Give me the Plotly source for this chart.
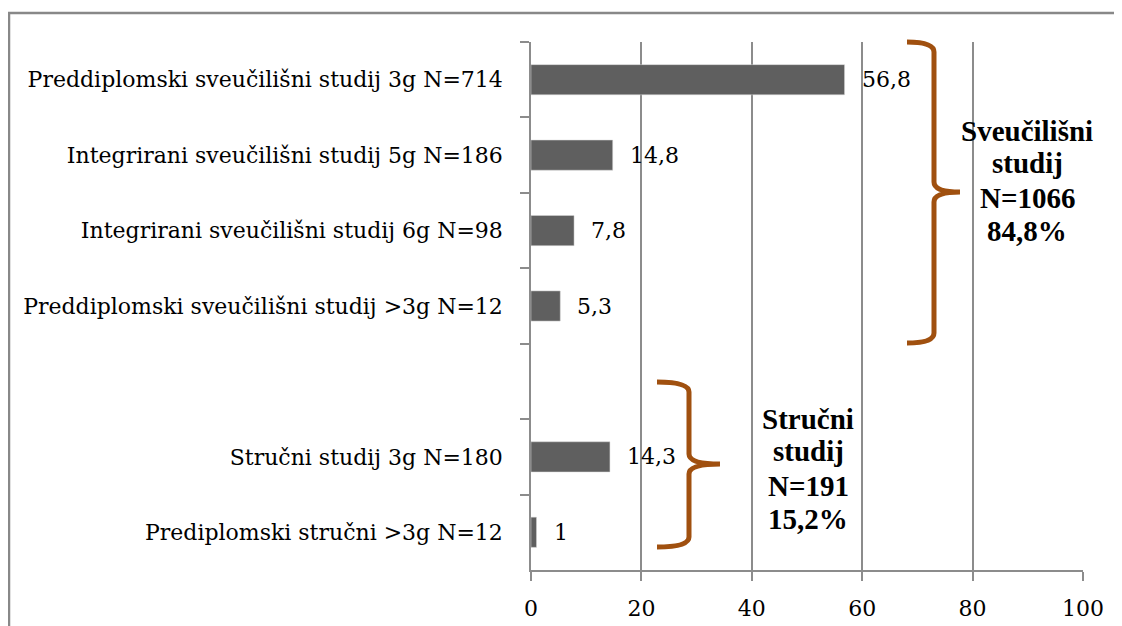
import plotly.graph_objects as go

categories = [
    "Preddiplomski sveučilišni studij 3g N=714",
    "Integrirani sveučilišni studij 5g N=186",
    "Integrirani sveučilišni studij 6g N=98",
    "Preddiplomski sveučilišni studij >3g N=12",
    "Stručni studij 3g N=180",
    "Prediplomski stručni >3g N=12",
]
values = [56.8, 14.8, 7.8, 5.3, 14.3, 1]
spacer = " "
category_order = categories[:4] + [spacer] + categories[4:]
x_ticks = [0, 20, 40, 60, 80, 100]
group1_lines = ["Sveučilišni", "studij", "N=1066", "84,8%"]
group2_lines = ["Stručni", "studij", "N=191", "15,2%"]

OFF = 8  # page body margin
W, H = 1122 - OFF, 626 - OFF
L, R, T, B = 531 - OFF, 1083 - OFF, 42 - OFF, 570 - OFF

label_font = dict(family="DejaVu Serif", size=22, color="#000000")
bold_font = dict(family="Liberation Serif", size=29, color="#000000")
grid_col = "#8c8c8c"
brace_col = "#A0500F"


def fmt(v):
    return f"{v:g}".replace(".", ",")


fig = go.Figure()
fig.add_trace(go.Bar(
    x=values, y=categories, orientation="h",
    marker=dict(color="#5f5f5f", line=dict(color="#d8d8d8", width=0.5)),
    width=0.4, showlegend=False, hoverinfo="skip",
))

annotations = []
for c, v in zip(categories, values):
    annotations.append(dict(
        x=v, y=c, xref="x", yref="y", text=fmt(v), showarrow=False,
        xanchor="left", yanchor="middle", xshift=15,
        font=label_font,
    ))


def px2paper(px, py):
    # px, py are screen pixel coordinates in the reference
    px -= OFF
    py -= OFF
    return (px - L) / (R - L), (B - py) / (B - T)


def brace_path(x0, xv, xt, ytop, ymid, ybot, r=10):
    pts = [
        ("M", [(x0, ytop)]),
        ("Q", [(xv, ytop), (xv, ytop + r)]),
        ("L", [(xv, ymid - r)]),
        ("Q", [(xv, ymid), (xt, ymid)]),
        ("M", [(xt, ymid)]),
        ("Q", [(xv, ymid), (xv, ymid + r)]),
        ("L", [(xv, ybot - r)]),
        ("Q", [(xv, ybot), (x0, ybot)]),
    ]
    s = ""
    for cmd, ps in pts:
        s += cmd + " " + " ".join("%.5f,%.5f" % px2paper(*p) for p in ps) + " "
    return s.strip()


shapes = [
    dict(type="path", xref="paper", yref="paper",
         path=brace_path(907, 934, 960, 42, 192, 343),
         line=dict(color=brace_col, width=5)),
    dict(type="path", xref="paper", yref="paper",
         path=brace_path(657, 689, 720, 382, 464, 547),
         line=dict(color=brace_col, width=5)),
]

# outer frame
fx0, fy0 = px2paper(9, 13)
fx1, fy1 = px2paper(1150, 680)
shapes.append(dict(type="rect", xref="paper", yref="paper",
                   x0=fx0, y0=fy0, x1=fx1, y1=fy1,
                   line=dict(color="#888888", width=2.5), layer="below"))


def add_block(lines, cx, baselines):
    for ln, bl in zip(lines, baselines):
        gx, gy = px2paper(cx, bl - 9)
        annotations.append(dict(x=gx, y=gy, xref="paper", yref="paper",
                                text="<b>" + ln + "</b>", showarrow=False,
                                xanchor="center", yanchor="middle",
                                font=bold_font))


add_block(group1_lines, 1027, [140, 172, 207, 240])
add_block(group2_lines, 808, [428, 460, 495, 528])

fig.update_layout(
    width=W, height=H,
    margin=dict(l=L, r=W - R, t=T, b=H - B, autoexpand=False),
    paper_bgcolor="white", plot_bgcolor="white",
    shapes=shapes, annotations=annotations,
    xaxis=dict(range=[0, 100], tickvals=x_ticks, ticktext=[str(t) for t in x_ticks],
               showgrid=True, gridcolor=grid_col, gridwidth=1.5,
               showline=True, linecolor=grid_col, linewidth=1.5,
               ticks="outside", ticklen=9, tickcolor=grid_col, tickwidth=1.5,
               ticklabelstandoff=9, automargin=False,
               tickfont=label_font, zeroline=False, fixedrange=True),
    yaxis=dict(categoryorder="array", categoryarray=category_order,
               range=[len(category_order) - 0.5, -0.5],
               showgrid=False, showline=True, linecolor=grid_col, linewidth=1.5,
               ticks="outside", ticklen=9, tickcolor=grid_col, tickwidth=1.5,
               tickson="boundaries", ticklabelstandoff=22, automargin=False,
               tickfont=label_font, zeroline=False, fixedrange=True),
    bargap=0.6,
    font=label_font,
)

fig.write_html("out.html")
